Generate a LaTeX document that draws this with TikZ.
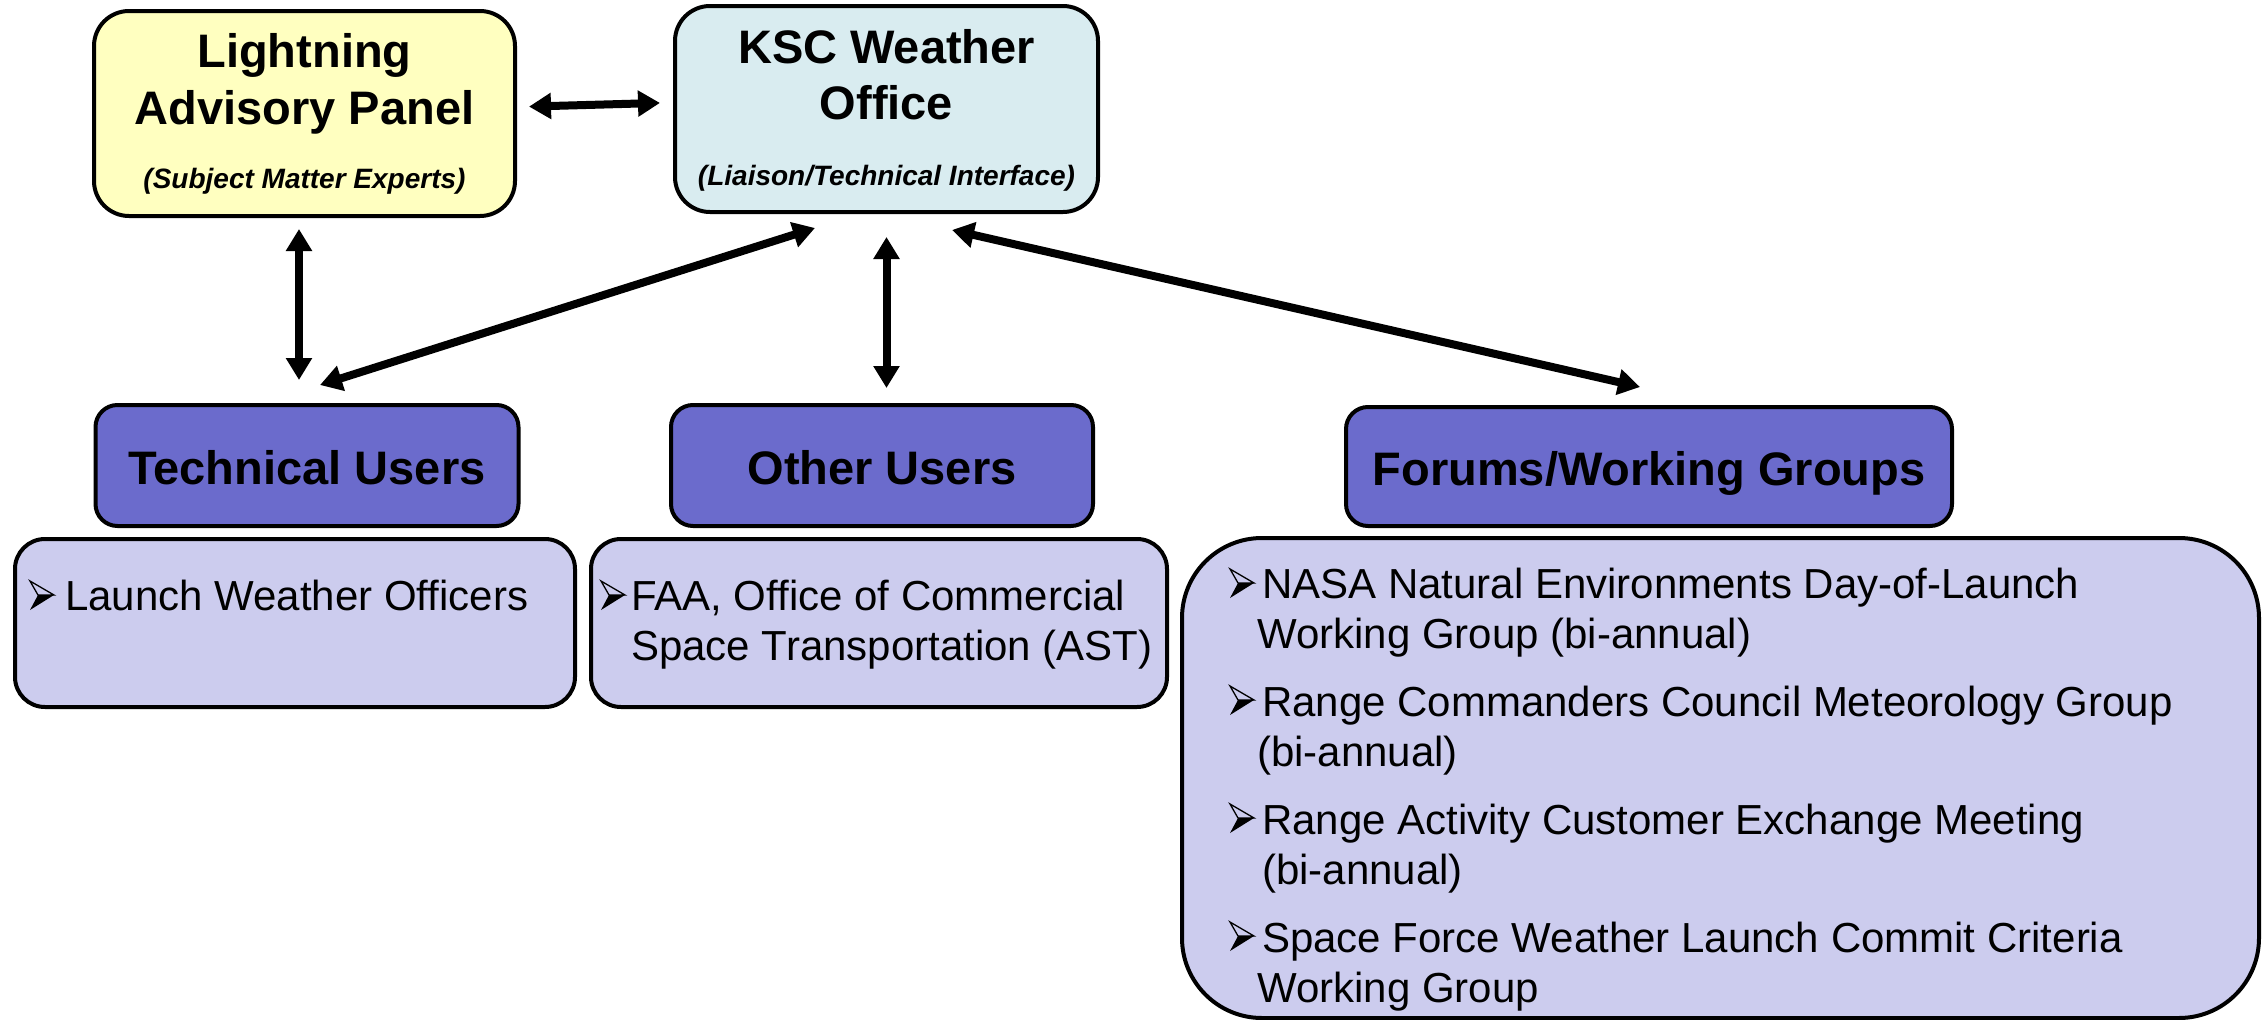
\documentclass[tikz,border=0pt]{standalone}
\usepackage{fontspec}
\setmainfont{Liberation Sans}
\usetikzlibrary{arrows.meta,calc}
\definecolor{yellowbox}{RGB}{255,255,192}
\definecolor{cyanbox}{RGB}{217,236,240}
\definecolor{purplehead}{RGB}{107,107,204}
\definecolor{lilacbox}{RGB}{204,204,238}
\begin{document}
\begin{tikzpicture}[x=1pt,y=-1pt,
  boxbase/.style={draw=black,line width=4pt,inner sep=0pt,outer sep=0pt},
  topbox/.style={boxbase,rounded corners=35pt,minimum width=421pt,minimum height=205pt},
  headbox/.style={boxbase,rounded corners=22pt,fill=purplehead,minimum width=423pt,minimum height=121pt},
  listbox/.style={boxbase,rounded corners=30pt,fill=lilacbox,minimum width=560pt,minimum height=168pt},
  titletext/.style={inner sep=0pt,anchor=base,font=\bfseries\fontsize{47}{57}\selectfont},
  subtext/.style={inner sep=0pt,anchor=base,font=\bfseries\itshape\fontsize{28}{34}\selectfont},
  listtext/.style={inner sep=0pt,anchor=base west,font=\fontsize{42}{50}\selectfont},
  conn/.style={line width=8pt,{Triangle[length=22pt,width=25pt]}-{Triangle[length=22pt,width=25pt]}},
  arrowbul/.pic={
    \draw[line width=1.3pt,line join=miter] (0,-29) -- (24,-15) -- (8,-15) -- cycle;
    \fill[black] (8,-15) -- (24,-15) -- (0,0) -- cycle;
  }]
\useasboundingbox (0,0) rectangle (2263,1020);

% top boxes
\node[topbox,fill=yellowbox] (lap) at (304.5,113.5) {};
\node[topbox,fill=cyanbox,minimum width=423pt,minimum height=206pt] (ksc) at (886.5,109) {};
\node[titletext] (laptitle) at (304.5,67) {\parbox[t]{420pt}{\centering Lightning\\Advisory Panel}};
\node[subtext] (lapsub) at (304.5,188) {(Subject Matter Experts)};
\node[titletext] (ksctitle) at (886.5,63) {\parbox[t]{420pt}{\centering\fontsize{47}{56}\selectfont KSC Weather\\Office}};
\node[subtext] (kscsub) at (886.5,185) {(Liaison/Technical Interface)};

% headers
\node[headbox] (tu) at (307,465.5) {};
\node[headbox,minimum width=422pt] (ou) at (882,465.5) {};
\node[headbox,minimum width=606pt,minimum height=119pt] (fw) at (1649,466.5) {};
\node[titletext] (tutext) at (307,484) {Technical Users};
\node[titletext] (outext) at (882,484) {Other Users};
\node[titletext] (fwtext) at (1649,485) {Forums/Working Groups};

% list boxes
\node[listbox] (lwo) at (295,623) {};
\node[listbox,minimum width=576pt] (faa) at (879,623) {};
\node[listbox,rounded corners=80pt,minimum width=1077pt,minimum height=480pt] (big) at (1720.5,778) {};

\node[listtext] (lwotext) at (65,610) {Launch Weather Officers};
\node[listtext] (faatext) at (631,610) {\parbox[t]{540pt}{\raggedright
  FAA, Office of Commercial\\
  Space Transportation (AST)}};
\node[listtext] (bigtext) at (1262,598) {\parbox[t]{990pt}{\raggedright
  NASA Natural Environments Day-of-Launch\\
  \hspace*{-5pt}Working Group (bi-annual)\\[18pt]
  Range Commanders Council Meteorology Group\\
  \hspace*{-5pt}(bi-annual)\\[18pt]
  Range Activity Customer Exchange Meeting\\
  (bi-annual)\\[18pt]
  Space Force Weather Launch Commit Criteria\\
  \hspace*{-5pt}Working Group}};

% bullets
\pic at (30,610) {arrowbul};
\pic at (601,610) {arrowbul};
\pic at (1230,598) {arrowbul};
\pic at (1230,715) {arrowbul};
\pic at (1230,833) {arrowbul};
\pic at (1230,951) {arrowbul};

% connectors
\draw[conn,shorten <=14pt,shorten >=15pt] ([yshift=6.5pt]lap.east) -- ([yshift=6.5pt]ksc.west);
\draw[conn,shorten <=13pt,shorten >=25pt] ([xshift=-5.5pt]lap.south) -- ([xshift=-8pt]tu.north);
\draw[conn] ([xshift=-71.5pt,yshift=-16pt]ksc.south) -- ([xshift=13pt,yshift=20pt]tu.north);
\draw[conn,shorten <=25pt,shorten >=17pt] (ksc.south) -- (ksc.south |- ou.north);
\draw[conn] ([xshift=65.5pt,yshift=-18pt]ksc.south) -- ([xshift=-9pt,yshift=20pt]fw.north);
\end{tikzpicture}
\end{document}
